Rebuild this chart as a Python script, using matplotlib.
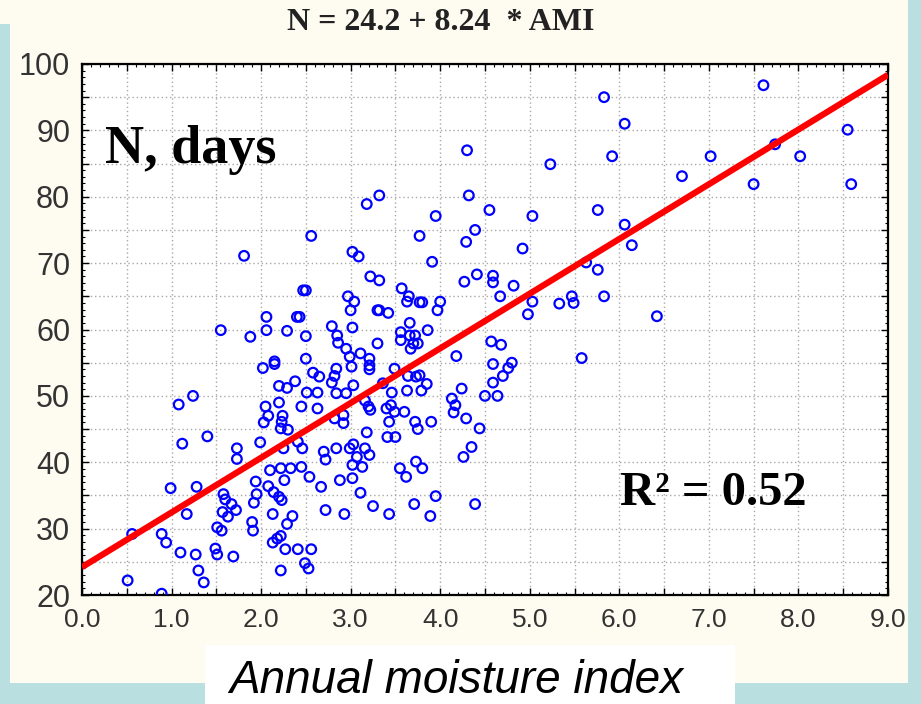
import matplotlib
matplotlib.use("Agg")
import numpy as np
import matplotlib.pyplot as plt
from matplotlib.patches import Rectangle
from matplotlib.ticker import MultipleLocator, FuncFormatter

# regression from the chart title
intercept = 24.2
slope = 8.24

# annual moisture index (x) and N, days (y)
ami = [
    1.24, 1.08, 1.40, 1.12, 0.99, 1.28, 1.17, 0.56, 0.89, 0.94, 1.10, 1.27, 1.30, 1.36, 0.51, 0.89,
    1.73, 1.73, 1.58, 1.60, 1.67, 1.72, 1.57, 1.63, 1.51, 1.56, 1.49, 1.51, 1.69,
    1.99, 1.94, 1.95, 1.92, 1.90, 1.91,
    2.10, 2.22, 2.33, 2.45, 2.26, 2.08, 2.14, 2.20, 2.23, 2.13, 2.35, 2.29, 2.22, 2.18, 2.13,
    2.27, 2.41, 2.56, 2.49, 2.53, 2.22, 2.46, 2.41, 2.54,
    2.20, 2.29, 2.38, 2.51, 2.05, 2.08, 2.03, 2.20, 2.24, 2.23, 2.22, 2.30, 2.45, 2.25,
    1.81, 2.06, 2.40, 2.43, 1.55, 2.06, 2.29, 1.88, 2.15, 2.15, 2.02,
    3.32, 3.18, 4.32, 3.95, 4.39, 4.29, 2.56, 3.77, 3.02, 3.09, 3.91, 4.41, 4.27, 3.22, 3.32,
    2.47, 2.50, 3.57, 3.65, 2.97, 3.04, 3.00, 3.63, 3.77, 3.80, 4.00, 3.97, 3.30, 3.32, 3.42,
    2.79, 3.02, 3.66, 3.86, 3.56, 3.56, 3.66, 3.72, 3.70, 3.75, 3.67, 2.50, 2.85, 2.86, 2.95,
    3.30, 3.11, 3.21, 2.99, 4.18, 2.50,
    2.58, 2.65, 2.63, 2.63, 2.84, 2.82, 2.79, 3.01, 3.21, 3.21, 3.03, 2.95, 2.84, 3.16, 3.22,
    2.92, 2.92, 2.82, 3.20, 3.36, 3.46, 3.45, 3.40, 3.49, 3.43, 3.49, 3.64, 3.63, 3.79, 3.60,
    3.72, 3.75, 3.90, 3.85, 3.77, 3.73, 4.24, 4.13, 4.17, 4.15, 4.29, 4.44, 3.18, 3.41, 3.50,
    3.03, 2.99, 3.16, 3.07, 3.21, 3.02, 3.13, 2.84, 2.70, 2.72, 2.67, 2.88, 3.02, 3.11, 3.55,
    3.62, 3.73, 3.80, 4.26, 4.35, 3.95, 3.71, 3.89, 3.43, 3.25, 2.93, 2.72, 4.39,
    5.83, 7.61, 6.06, 8.55, 4.30, 5.92, 7.02, 8.02, 7.74, 5.23, 6.70, 7.50, 8.59, 4.55, 5.03,
    5.76, 4.92, 6.06, 6.14, 5.63, 5.76, 4.59, 4.59, 4.82, 4.67, 5.03, 4.98, 5.47, 5.33, 5.49,
    5.83, 6.42, 4.57, 4.68,
    5.58, 4.59, 4.80, 4.76, 4.70, 4.59, 4.50, 4.64,
]
n_days = [
    50.0, 48.7, 43.9, 42.8, 36.1, 36.3, 32.2, 29.2, 29.2, 27.9, 26.4, 26.1, 23.7, 21.9, 22.2, 20.2,
    42.1, 40.5, 35.2, 34.4, 33.7, 32.8, 32.5, 31.8, 30.2, 29.7, 27.0, 26.1, 25.8,
    43.0, 37.1, 35.2, 33.9, 31.0, 29.7,
    38.8, 39.1, 39.1, 39.3, 37.3, 36.4, 35.5, 34.8, 34.3, 32.2, 31.9, 30.7, 28.9, 28.5, 27.9,
    26.9, 26.9, 26.9, 24.8, 24.0, 23.7, 42.1, 43.1, 37.8,
    51.5, 51.2, 52.2, 50.5, 48.4, 47.0, 46.0, 49.0, 47.0, 46.1, 45.1, 44.9, 48.4, 42.1,
    71.1, 61.9, 61.9, 61.9, 59.9, 59.9, 59.8, 58.9, 55.2, 54.8, 54.2,
    80.2, 78.9, 80.2, 77.1, 75.0, 73.2, 74.1, 74.1, 71.7, 71.0, 70.2, 68.3, 67.2, 68.0, 67.4,
    65.9, 65.9, 66.2, 65.0, 65.0, 64.2, 62.9, 64.2, 64.1, 64.1, 64.2, 62.9, 62.9, 62.9, 62.5,
    60.5, 60.3, 61.0, 59.9, 59.6, 58.4, 59.1, 59.1, 57.9, 57.9, 57.1, 59.0, 59.1, 58.0, 57.1,
    57.9, 56.4, 55.6, 55.9, 56.0, 55.6,
    53.5, 52.9, 50.5, 48.1, 54.1, 53.0, 52.0, 54.4, 54.6, 54.0, 51.6, 50.4, 50.4, 49.3, 47.9,
    47.1, 45.9, 46.6, 48.4, 51.9, 50.5, 48.6, 48.1, 47.6, 46.1, 54.1, 53.0, 50.8, 50.8, 47.6,
    46.1, 45.0, 46.1, 51.8, 53.1, 52.9, 51.1, 49.6, 48.6, 47.5, 46.6, 45.1, 44.5, 43.8, 43.8,
    42.7, 42.1, 42.1, 40.8, 41.1, 39.6, 39.3, 42.1, 41.6, 40.4, 36.3, 37.3, 37.6, 35.4, 39.1,
    37.8, 40.1, 39.1, 40.8, 42.3, 34.9, 33.7, 31.9, 32.2, 33.4, 32.2, 32.8, 33.7,
    95.0, 96.8, 91.0, 90.1, 87.0, 86.1, 86.1, 86.1, 87.9, 84.9, 83.1, 81.9, 81.9, 78.0, 77.1,
    78.0, 72.2, 75.8, 72.7, 70.1, 69.0, 68.1, 67.1, 66.6, 65.0, 64.2, 62.3, 65.0, 63.9, 64.0,
    65.0, 62.0, 58.2, 57.7,
    55.7, 54.8, 55.0, 54.2, 53.0, 52.0, 50.0, 50.0,
]

x_limits = (0, 9)
y_limits = (20, 100)

fig = plt.figure(figsize=(9.21, 7.04), dpi=100)
fig.patch.set_facecolor("#b9dfe0")
# cream panel, corner, and white box behind the x label
fig.add_artist(Rectangle((0.0109, 0.0298), 0.975, 0.9702, transform=fig.transFigure,
                         facecolor="#fefcf0", edgecolor="none", zorder=-10))
fig.add_artist(Rectangle((0.0, 0.9659), 0.0109, 0.0341, transform=fig.transFigure,
                         facecolor="#fefcf0", edgecolor="none", zorder=-10))
fig.add_artist(Rectangle((0.2226, 0.0), 0.5754, 0.0838, transform=fig.transFigure,
                         facecolor="white", edgecolor="none", zorder=-9))

ax = fig.add_axes([0.0890, 0.1548, 0.8751, 0.7543])
ax.set_facecolor("white")

ax.scatter(ami, n_days, s=48, facecolors="none", edgecolors="#0000ff", linewidths=1.6, zorder=3)

xs = np.linspace(x_limits[0], x_limits[1], 50)
ax.plot(xs, intercept + slope * xs, color="#ff0000", lw=4.5, zorder=4, solid_capstyle="butt")

ax.set_xlim(*x_limits)
ax.set_ylim(*y_limits)

ax.xaxis.set_major_locator(MultipleLocator(0.5))
ax.xaxis.set_minor_locator(MultipleLocator(0.1))
ax.yaxis.set_major_locator(MultipleLocator(5))
ax.yaxis.set_minor_locator(MultipleLocator(1))
ax.xaxis.set_major_formatter(FuncFormatter(lambda v, p: f"{v:.1f}" if abs(v - round(v)) < 1e-6 else ""))
ax.yaxis.set_major_formatter(FuncFormatter(lambda v, p: f"{int(round(v))}" if int(round(v)) % 10 == 0 else ""))

ax.grid(True, which="major", linestyle=(0, (1, 2)), color="#a8a8a8", lw=1)
ax.tick_params(which="both", direction="in", top=True, right=True, color="black")
ax.tick_params(which="major", length=5, width=1)
ax.tick_params(which="minor", length=2.5, width=0.8)
ax.tick_params(axis="x", pad=9, labelsize=19, labelcolor="#333333")
ax.tick_params(axis="y", pad=8.5, labelsize=22, labelcolor="#333333")
for lab in ax.get_xticklabels() + ax.get_yticklabels():
    lab.set_fontfamily("Liberation Sans")
for sp in ax.spines.values():
    sp.set_linewidth(1.6)

ax.text(0.0285, 0.8136, "N, days", transform=ax.transAxes, fontsize=39, fontweight="bold",
        family="Liberation Serif", va="baseline", ha="left", color="black")
ax.text(0.6675, 0.1695, "R\u00b2 = 0.52", transform=ax.transAxes, fontsize=35, fontweight="bold",
        family="Liberation Serif", va="baseline", ha="left", color="black")

fig.text(441 / 921, 1 - 23 / 704, "N = 24.2 + 8.24  * AMI", ha="center", va="center",
         fontsize=23, fontweight="bold", family="Liberation Serif", color="#222222")
fig.text(229 / 921, 1 / 704, "Annual moisture index", ha="left", va="bottom",
         fontsize=33, style="italic", family="Liberation Sans", color="black")

fig.savefig("out.png", dpi=100, facecolor=fig.get_facecolor())
